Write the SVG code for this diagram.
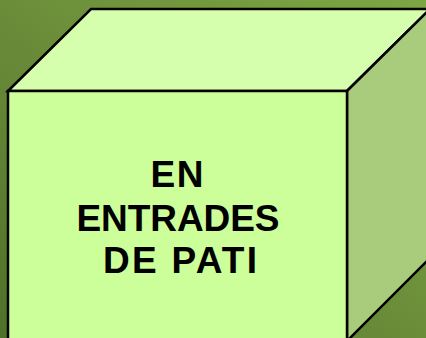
<svg xmlns="http://www.w3.org/2000/svg" width="426" height="338" viewBox="0 0 426 338">
<defs>
<linearGradient id="bg" x1="0" y1="1" x2="1" y2="0">
<stop offset="0" stop-color="#4f7229"/>
<stop offset="0.5" stop-color="#6b8d3a"/>
<stop offset="1" stop-color="#7ca743"/>
</linearGradient>
<style>
.edge{stroke:#000;stroke-width:2.5;stroke-linejoin:miter}
.lbl{font-family:"Liberation Sans",Arial,sans-serif;font-weight:bold;font-size:37px;fill:#000;text-anchor:middle}
</style>
</defs>
<rect width="426" height="338" fill="url(#bg)"/>
<g id="cube">
<polygon class="edge" points="8,91 91,9 430,9 347,91" fill="#d6ffad"/>
<polygon class="edge" points="347,91 430,9 430,258 347,341" fill="#a8cc7c"/>
<rect class="edge" x="8" y="91" width="339" height="250" fill="#ccff99"/>
<text class="lbl" x="177" y="187" textLength="53" lengthAdjust="spacing">EN</text>
<text class="lbl" x="178" y="231" textLength="203" lengthAdjust="spacing">ENTRADES</text>
<text class="lbl" x="180" y="273" textLength="154" lengthAdjust="spacing">DE PATI</text>
</g>
</svg>
